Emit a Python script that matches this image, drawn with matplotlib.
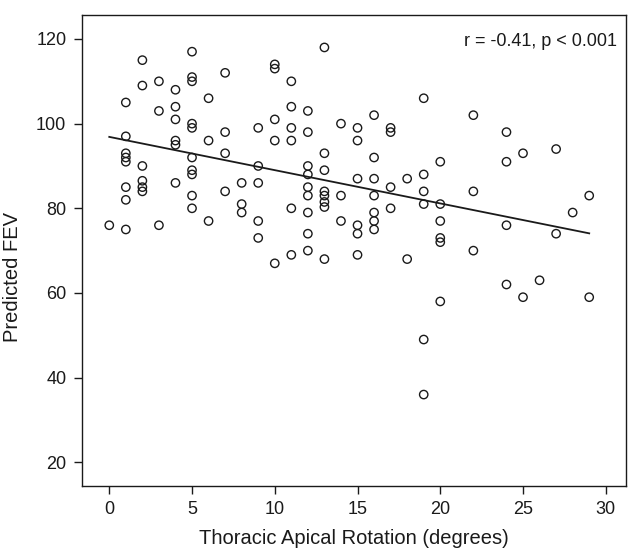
import numpy as np
import matplotlib
matplotlib.use("Agg")
import matplotlib.pyplot as plt

plt.rcParams['font.family'] = ['Liberation Sans', 'DejaVu Sans']

# Data: thoracic apical rotation (deg) vs predicted FEV
rotation = [0,
            1, 1, 1, 1, 1, 1, 1, 1,
            2, 2, 2, 2, 2, 2,
            3, 3, 3,
            4, 4, 4, 4, 4, 4,
            5, 5, 5, 5, 5, 5, 5, 5, 5, 5,
            6, 6, 6,
            7, 7, 7, 7,
            8, 8, 8,
            9, 9, 9, 9, 9,
            10, 10, 10, 10, 10,
            11, 11, 11, 11, 11, 11,
            12, 12, 12, 12, 12, 12, 12, 12, 12,
            13, 13, 13, 13, 13, 13, 13, 13,
            14, 14, 14,
            15, 15, 15, 15, 15, 15,
            16, 16, 16, 16, 16, 16, 16,
            17, 17, 17, 17,
            18, 18,
            19, 19, 19, 19, 19, 19,
            20, 20, 20, 20, 20, 20,
            22, 22, 22,
            24, 24, 24, 24,
            25, 25,
            26,
            27, 27,
            28,
            29, 29]
fev = [76,
       105, 97, 93, 92, 91, 85, 82, 75,
       115, 109, 90, 86.5, 85, 84,
       110, 103, 76,
       108, 104, 101, 96, 95, 86,
       117, 111, 110, 100, 99, 92, 89, 88, 83, 80,
       106, 96, 77,
       112, 98, 93, 84,
       86, 81, 79,
       99, 90, 86, 77, 73,
       114, 113, 101, 96, 67,
       110, 104, 99, 96, 80, 69,
       103, 98, 90, 88, 85, 83, 79, 74, 70,
       118, 93, 89, 84, 83, 81.5, 80.3, 68,
       100, 83, 77,
       99, 96, 87, 76, 74, 69,
       102, 92, 87, 83, 79, 77, 75,
       99, 98, 85, 80,
       87, 68,
       106, 88, 84, 81, 49, 36,
       91, 81, 77, 73, 72, 58,
       102, 84, 70,
       98, 91, 76, 62,
       93, 59,
       63,
       94, 74,
       79,
       83, 59]

x_ticks = [0, 5, 10, 15, 20, 25, 30]
y_ticks = [20, 40, 60, 80, 100, 120]
annotation = "r = -0.41, p < 0.001"
x_label = "Thoracic Apical Rotation (degrees)"
y_label = "Predicted FEV"

x = np.array(rotation, dtype=float)
y = np.array(fev, dtype=float)
slope, intercept = np.polyfit(x, y, 1)

fig = plt.figure(figsize=(6.28, 5.49), dpi=100)
ax = fig.add_axes([0.130, 0.1153, 0.867, 0.8565])

ax.scatter(x, y, s=36, facecolors='none', edgecolors='#1a1a1a', linewidths=1.0, zorder=3)
xl = np.array([x.min(), x.max()])
ax.plot(xl, slope * xl + intercept, color='#1a1a1a', lw=1.3, zorder=2)

ax.set_xlim(-1.67, 31.23)
ax.set_ylim(14.47, 125.55)
ax.set_xticks(x_ticks)
ax.set_yticks(y_ticks)
ax.tick_params(direction='out', length=6, width=1.0, labelsize=13, colors='#1a1a1a', pad=5)
for sp in ax.spines.values():
    sp.set_linewidth(1.0)
    sp.set_color('#1a1a1a')

ax.set_xlabel(x_label, fontsize=14.5, color='#1a1a1a', labelpad=8)
ax.set_ylabel(y_label, fontsize=14.5, color='#1a1a1a')
ax.yaxis.set_label_coords(-0.11, 0.444)
ax.text(0.983, 0.944, annotation, transform=ax.transAxes, ha='right', va='center',
        fontsize=13, color='#1a1a1a')

fig.savefig("out.png", dpi=100)
